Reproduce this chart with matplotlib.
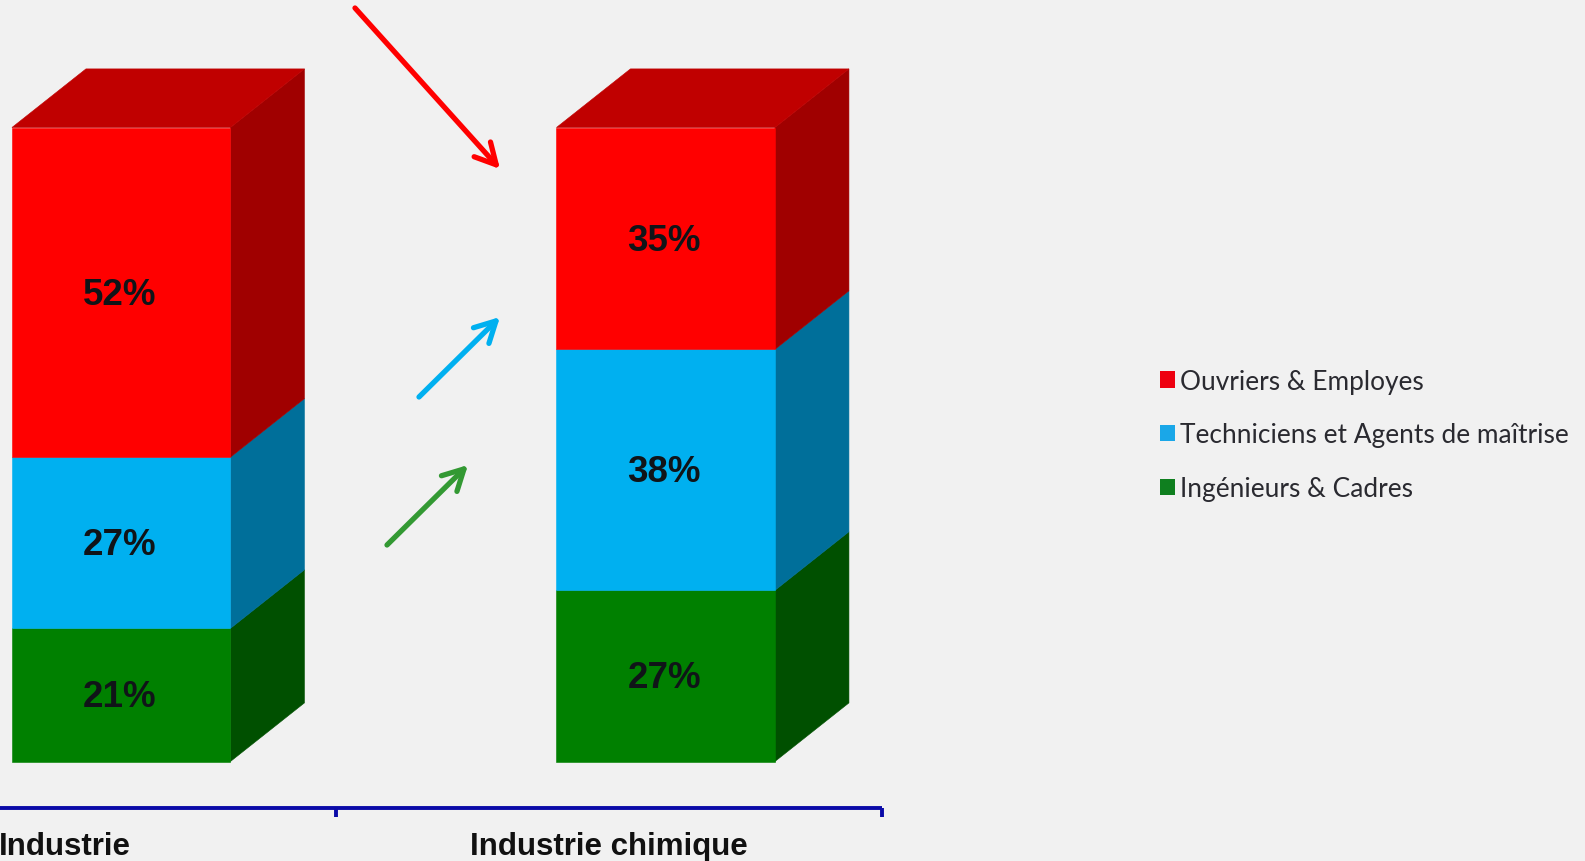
import matplotlib
matplotlib.use("Agg")
import matplotlib.pyplot as plt
from matplotlib.patches import Polygon, Patch

categories = ["Industrie", "Industrie chimique"]
series_names = ["Ingénieurs & Cadres", "Techniciens et Agents de maîtrise", "Ouvriers & Employes"]
ingenieurs = [21, 27]
techniciens = [27, 38]
ouvriers = [52, 35]
series = [ingenieurs, techniciens, ouvriers]
front_colors = ["#008000", "#00B0F0", "#FF0000"]
side_colors = ["#005000", "#006F9A", "#A00000"]
top_color = "#C00000"
bg = "#F1F1F1"

W, H = 1585, 862
fig = plt.figure(figsize=(W / 100, H / 100), dpi=100, facecolor=bg)
ax = fig.add_axes([0, 0, 1, 1])
ax.set_axis_off()

# data units: x = category index, y = percent; mapped to pixel layout
PX_X0, PX_PER_CAT = 121.2, 544.5
PX_Y0, PX_PER_PCT = 762.5, 6.34
ax.set_xlim(-PX_X0 / PX_PER_CAT, (W - PX_X0) / PX_PER_CAT)
ax.set_ylim((PX_Y0 - H) / PX_PER_PCT, PX_Y0 / PX_PER_PCT)

bar_w = 218.5 / PX_PER_CAT
dx = 74 / PX_PER_CAT
dy = 58.6 / PX_PER_PCT

for i in range(len(categories)):
    bottom = 0
    for vals, fc, sc in zip(series, front_colors, side_colors):
        v = vals[i]
        ax.bar(i, v, width=bar_w, bottom=bottom, color=fc, edgecolor=fc, linewidth=0.4, zorder=3)
        r = i + bar_w / 2
        ax.add_patch(Polygon([(r, bottom), (r + dx, bottom + dy), (r + dx, bottom + v + dy), (r, bottom + v)],
                             closed=True, facecolor=sc, edgecolor=sc, linewidth=0.4, zorder=2))
        ax.text(i - 0.003, bottom + v / 2 - 0.3, f"{v}%", ha="center", va="center", fontsize=26.5,
                fontweight="bold", family="Liberation Sans", color="#101418", zorder=5)
        bottom += v
    l = i - bar_w / 2
    r = i + bar_w / 2
    ax.add_patch(Polygon([(l, bottom), (r, bottom), (r + dx, bottom + dy), (l + dx, bottom + dy)],
                         closed=True, facecolor=top_color, edgecolor=top_color, linewidth=0.4, zorder=2))

# category axis, with group separators
axis_y = (PX_Y0 - 808.5) / PX_PER_PCT
tick_len = 9 / PX_PER_PCT
sep = [0.395, 1.398]
ax.plot([-0.3, sep[1]], [axis_y, axis_y], color="#0A0AA8", lw=2.8, solid_capstyle="butt", zorder=4)
for s in sep:
    ax.plot([s, s], [axis_y, axis_y - tick_len], color="#0A0AA8", lw=2.8, solid_capstyle="butt", zorder=4)
label_x = [-0.1035, 0.8958]
for x, c in zip(label_x, categories):
    ax.text(x, (PX_Y0 - 847) / PX_PER_PCT, c, ha="center", va="center", fontsize=22.5, fontweight="bold",
            family="Liberation Sans", color="#111111")

# arrows in pixel coordinates of the figure
def arrow(start, end, color):
    tr = fig.transFigure
    ax.annotate("", xy=(end[0] / W, 1 - end[1] / H), xytext=(start[0] / W, 1 - start[1] / H),
                xycoords=tr, textcoords=tr,
                arrowprops=dict(arrowstyle="->,head_length=0.68,head_width=0.36", color=color, lw=3.8,
                                shrinkA=0, shrinkB=0, mutation_scale=22), zorder=6)

arrow((355, 9), (500, 170), "#FF0000")
arrow((419, 398), (500, 318), "#00B0F0")
arrow((387, 546), (468, 466), "#339933")

handles = [Patch(facecolor=c, edgecolor="none", label=n)
           for c, n in zip(["#EE0010", "#1AA7E8", "#0F7F1F"], series_names[::-1])]
leg = fig.legend(handles=handles, labels=series_names[::-1], loc="center left", bbox_to_anchor=(1159.5 / W, 1 - 436 / H),
                 frameon=False, labelcolor="#2A2A30",
                 prop={"family": "Lato", "size": 18.9},
                 handlelength=0.58, handleheight=0.58, handletextpad=0.22, labelspacing=1.09,
                 borderpad=0, borderaxespad=0)

fig.savefig("out.png", dpi=100, facecolor=bg)
